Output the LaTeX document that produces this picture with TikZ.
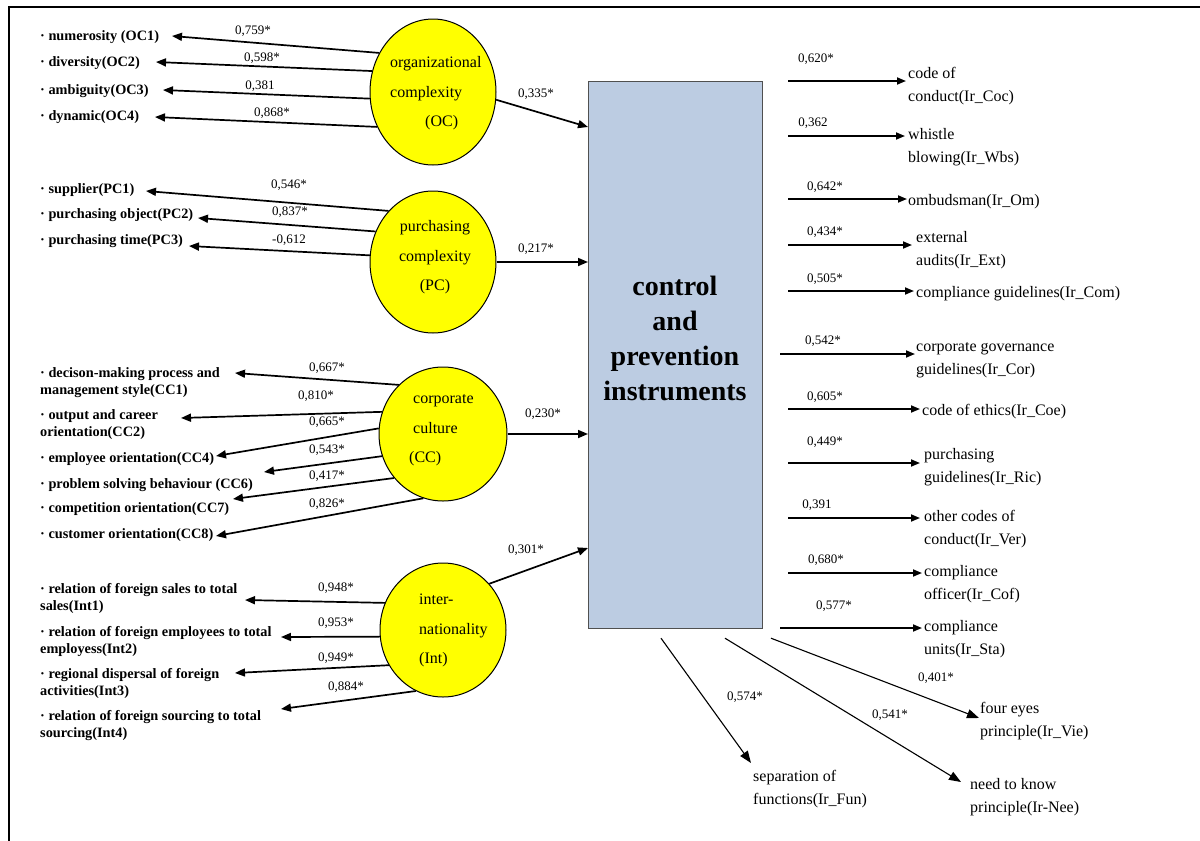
\documentclass[tikz,border=0pt]{standalone}
\usepackage{fontspec}
\setmainfont{Liberation Serif}
\usetikzlibrary{arrows.meta,shapes.geometric,calc}
\definecolor{lvyellow}{RGB}{255,255,0}
\definecolor{boxblue}{RGB}{188,204,226}
\definecolor{boxedge}{RGB}{80,80,80}
\newcommand\bul{·\ }
\begin{document}
\begin{tikzpicture}[x=1pt,y=-1pt,
  item/.style={anchor=north west, align=left, inner sep=0pt,
    font=\fontsize{14.3}{17.5}\selectfont\bfseries},
  ind/.style={anchor=north west, align=left, inner sep=0pt,
    font=\fontsize{16}{22.5}\selectfont},
  lvt/.style={anchor=north west, align=left, inner sep=0pt,
    font=\fontsize{16}{29.5}\selectfont},
  coef/.style={inner sep=0pt, font=\fontsize{13}{15}\selectfont},
  lv/.style={ellipse, draw=black, line width=1pt, fill=lvyellow, inner sep=0pt},
  larr/.style={line width=1.7pt, -{Triangle[length=10pt,width=8pt]}},
  rarr/.style={line width=1.7pt, -{Triangle[length=9pt,width=7pt]}},
  darr/.style={line width=1.1pt, -{Triangle[length=12pt,width=9pt]}}
]
\useasboundingbox (0,0) rectangle (1200,841);
% frame
\draw[line width=2pt] (9,841) -- (9,7) -- (1200,7);

% central construct
\node[draw=boxedge, line width=1.2pt, fill=boxblue, anchor=north west,
      minimum width=174pt, minimum height=547pt] (box) at (588,81) {};
\node[anchor=north, align=center, inner sep=0pt,
      font=\fontsize{28}{35}\selectfont\bfseries] (boxt) at (675,270.5)
      {\strut control\\and\\prevention\\instruments};

% latent variables
\node[lv, minimum width=126pt, minimum height=146pt] (oc) at (433,92) {};
\node[lvt] (oct) at (390,47) {\strut organizational\\complexity\\\hspace*{35pt}(OC)};
\node[lv, minimum width=126pt, minimum height=142pt] (pc) at (433,262) {};
\node[lvt, anchor=north, align=center] (pct) at (435,211) {\strut purchasing\\complexity\\(PC)};
\node[lv, minimum width=128pt, minimum height=134pt] (cc) at (443,434) {};
\node[lvt] (cct) at (413,383) {\strut corporate\\culture\\\hspace*{-4pt}(CC)};
\node[lv, minimum width=126pt, minimum height=134pt] (int) at (443,630) {};
\node[lvt] (intt) at (419,584) {\strut inter-\\nationality\\(Int)};

% organizational complexity indicators
\node[item] (oc1) at (40,27.75) {\strut\bul numerosity (OC1)};
\node[item] (oc2) at (40,53.75) {\strut\bul diversity(OC2)};
\node[item] (oc3) at (40,81.75) {\strut\bul ambiguity(OC3)};
\node[item] (oc4) at (40,107.75) {\strut\bul dynamic(OC4)};
\coordinate (t-oc1) at (172,36);
\coordinate (t-oc2) at (156,62);
\coordinate (t-oc3) at (163,90);
\coordinate (t-oc4) at (155,117);
\draw[larr] (oc.144) -- (t-oc1);
\draw[larr] (oc.161) -- (t-oc2);
\draw[larr] (oc.186) -- (t-oc3);
\draw[larr] (oc.212) -- (t-oc4);
\node[coef] (c-oc1) at (253,31) {0,759*};
\node[coef] (c-oc2) at (262,58) {0,598*};
\node[coef] (c-oc3) at (260,86) {0,381};
\node[coef] (c-oc4) at (272,113) {0,868*};

% purchasing complexity indicators
\node[item] (pc1) at (40,180.75) {\strut\bul supplier(PC1)};
\node[item] (pc2) at (40,205.75) {\strut\bul purchasing object(PC2)};
\node[item] (pc3) at (40,231.75) {\strut\bul purchasing time(PC3)};
\coordinate (t-pc1) at (146,191);
\coordinate (t-pc2) at (198,218);
\coordinate (t-pc3) at (189,246);
\draw[larr] (pc.131) -- (t-pc1);
\draw[larr] (pc.152) -- (t-pc2);
\draw[larr] (pc.174) -- (t-pc3);
\node[coef] (c-pc1) at (289,185) {0,546*};
\node[coef] (c-pc2) at (290,212) {0,837*};
\node[coef] (c-pc3) at (289,240) {-0,612};

% corporate culture indicators
\node[item] (cc1) at (40,364.75) {\strut\bul decison-making process and\\management style(CC1)};
\node[item] (cc2) at (40,406.75) {\strut\bul output and career\\orientation(CC2)};
\node[item] (cc4) at (40,449.75) {\strut\bul employee orientation(CC4)};
\node[item] (cc6) at (40,475.75) {\strut\bul problem solving behaviour (CC6)};
\node[item] (cc7) at (40,499.75) {\strut\bul competition orientation(CC7)};
\node[item] (cc8) at (40,525.75) {\strut\bul customer orientation(CC8)};
\coordinate (t-cc1) at (235,373);
\coordinate (t-cc2) at (181,418);
\coordinate (t-cc4) at (216,456);
\coordinate (t-cc6) at (264,472);
\coordinate (t-cc7) at (233,499);
\coordinate (t-cc8) at (216,536);
\draw[larr] (cc.132) -- (t-cc1);
\draw[larr] (cc.160) -- (t-cc2);
\draw[larr] (cc.175) -- (t-cc4);
\draw[larr] (cc.200) -- (t-cc6);
\draw[larr] (cc.222) -- (t-cc7);
\draw[larr] (cc.253) -- (t-cc8);
\node[coef] (c-cc1) at (327,368) {0,667*};
\node[coef] (c-cc2) at (316,396) {0,810*};
\node[coef] (c-cc4) at (327,422) {0,665*};
\node[coef] (c-cc6) at (327,450) {0,543*};
\node[coef] (c-cc7) at (327,476) {0,417*};
\node[coef] (c-cc8) at (327,504) {0,826*};

% internationality indicators
\node[item] (int1) at (40,580.75) {\strut\bul relation of foreign sales to total\\sales(Int1)};
\node[item] (int2) at (40,623.75) {\strut\bul relation of foreign employees to total\\employess(Int2)};
\node[item] (int3) at (40,665.75) {\strut\bul regional dispersal of foreign\\activities(Int3)};
\node[item] (int4) at (40,707.75) {\strut\bul relation of foreign sourcing to total\\sourcing(Int4)};
\coordinate (t-int1) at (245,600);
\coordinate (t-int2) at (281,637);
\coordinate (t-int3) at (235,673);
\coordinate (t-int4) at (281,709);
\draw[larr] (int.155) -- (t-int1);
\draw[larr] (int.186) -- (t-int2);
\draw[larr] (int.213) -- (t-int3);
\draw[larr] (int.246) -- (t-int4);
\node[coef] (c-int1) at (336,588) {0,948*};
\node[coef] (c-int2) at (336,623) {0,953*};
\node[coef] (c-int3) at (336,658) {0,949*};
\node[coef] (c-int4) at (346,687) {0,884*};

% structural paths
\draw[larr] (oc.353) -- ($(box.north west)+(0,46)$);
\draw[larr] (pc.east) -- (pc.east -| box.west);
\draw[larr] (cc.east) -- (cc.east -| box.west);
\draw[larr] (int.45) -- ($(box.north west)+(0,467)$);
\node[coef] (c-oc) at (536,94) {0,335*};
\node[coef] (c-pc) at (536,249) {0,217*};
\node[coef] (c-cc) at (543,414) {0,230*};
\node[coef] (c-int) at (526,550) {0,301*};

% instrument indicators
\node[ind] (r1) at (908,62.85) {\strut code of\\conduct(Ir\_Coc)};
\node[ind] (r2) at (908,123.85) {\strut whistle\\blowing(Ir\_Wbs)};
\node[ind] (r3) at (908,189.85) {\strut ombudsman(Ir\_Om)};
\node[ind] (r4) at (916,226.85) {\strut external\\audits(Ir\_Ext)};
\node[ind] (r5) at (916,281.85) {\strut compliance guidelines(Ir\_Com)};
\node[ind] (r6) at (916,335.85) {\strut corporate governance\\guidelines(Ir\_Cor)};
\node[ind] (r7) at (922,399.85) {\strut code of ethics(Ir\_Coe)};
\node[ind] (r8) at (924,443.85) {\strut purchasing\\guidelines(Ir\_Ric)};
\node[ind] (r9) at (924,505.85) {\strut other codes of\\conduct(Ir\_Ver)};
\node[ind] (r10) at (924,560.85) {\strut compliance\\officer(Ir\_Cof)};
\node[ind] (r11) at (924,615.85) {\strut compliance\\units(Ir\_Sta)};
\node[ind] (r12) at (753,765.85) {\strut separation of\\functions(Ir\_Fun)};
\node[ind] (r13) at (970,773.85) {\strut need to know\\principle(Ir-Nee)};
\node[ind] (r14) at (980,697.85) {\strut four eyes\\principle(Ir\_Vie)};

\coordinate (e-r1) at (906,81);
\coordinate (e-r2) at (905,136);
\coordinate (e-r3) at (907,199);
\coordinate (e-r4) at (912,245);
\coordinate (e-r5) at (914,291);
\coordinate (e-r6) at (915,354);
\coordinate (e-r7) at (920,409);
\coordinate (e-r8) at (920,463);
\coordinate (e-r9) at (920,518);
\coordinate (e-r10) at (922,573);
\coordinate (e-r11) at (922,628);
\coordinate (e-r12) at (751,763);
\coordinate (e-r13) at (961,782);
\coordinate (e-r14) at (979,718);

\foreach \r in {r1,r2,r3,r4,r5,r7,r8,r9,r10}
  \draw[rarr] ($(box.east |- e-\r)+(25,0)$) -- (e-\r);
\draw[rarr] ($(box.east |- e-r6)+(17,0)$) -- (e-r6);
\draw[rarr] ($(box.east |- e-r11)+(17,0)$) -- (e-r11);
\draw[darr] ($(box.south west)+(73,9)$) -- (e-r12);
\draw[darr] ($(box.south west)+(137,9)$) -- (e-r13);
\draw[darr] ($(box.south west)+(183,9)$) -- (e-r14);

\node[coef] (c-r1) at (816,59) {0,620*};
\node[coef] (c-r2) at (813,123) {0,362};
\node[coef] (c-r3) at (825,187) {0,642*};
\node[coef] (c-r4) at (825,232) {0,434*};
\node[coef] (c-r5) at (825,279) {0,505*};
\node[coef] (c-r6) at (823,341) {0,542*};
\node[coef] (c-r7) at (825,397) {0,605*};
\node[coef] (c-r8) at (825,442) {0,449*};
\node[coef] (c-r9) at (817,505) {0,391};
\node[coef] (c-r10) at (826,560) {0,680*};
\node[coef] (c-r11) at (834,606) {0,577*};
\node[coef] (c-r12) at (745,697) {0,574*};
\node[coef] (c-r13) at (890,715) {0,541*};
\node[coef] (c-r14) at (936,678) {0,401*};
\end{tikzpicture}
\end{document}
